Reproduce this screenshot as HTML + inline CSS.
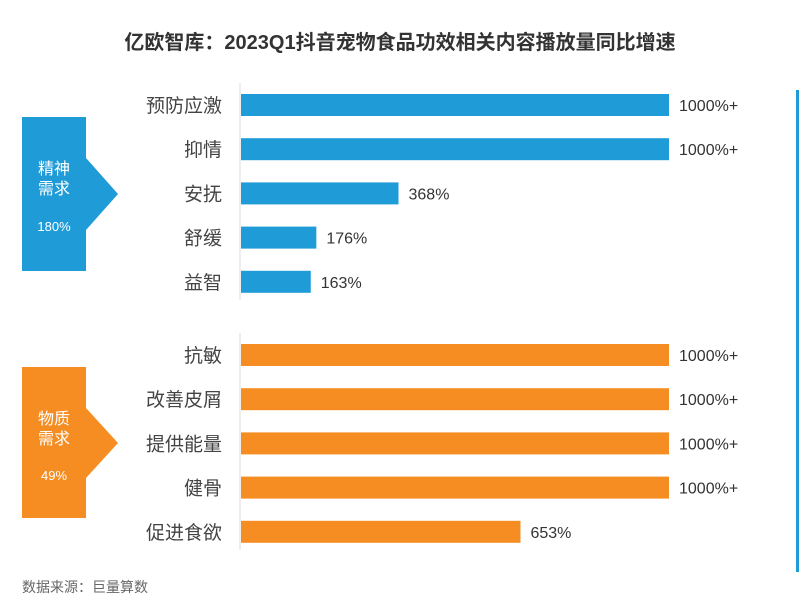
<!DOCTYPE html>
<html><head><meta charset="utf-8"><style>
body{margin:0;width:799px;height:608px;background:#fff;overflow:hidden;font-family:"Liberation Sans","Noto Sans CJK SC",sans-serif}
</style></head><body>
<svg width="799" height="608" id="c">
<text x="400" y="49" text-anchor="middle" font-size="20" font-weight="bold" fill="#333">亿欧智库：2023Q1抖音宠物食品功效相关内容播放量同比增速</text>
<rect x="796" y="90" width="3" height="482" fill="#1f9bd7"/>
<line x1="240" y1="83" x2="240" y2="300" stroke="#ddd"/>
<line x1="240" y1="333" x2="240" y2="550" stroke="#ddd"/>
<polygon points="22,117 86,117 86,158 118,194 86,230 86,271 22,271" fill="#1f9bd7"/>
<text x="54" y="174" text-anchor="middle" font-size="16" fill="#fff">精神</text>
<text x="54" y="194" text-anchor="middle" font-size="16" fill="#fff">需求</text>
<text x="54" y="231" text-anchor="middle" font-size="13" fill="#fff">180%</text>
<polygon points="22,367 86,367 86,408 118,443 86,478 86,518 22,518" fill="#f58d22"/>
<text x="54" y="424" text-anchor="middle" font-size="16" fill="#fff">物质</text>
<text x="54" y="444" text-anchor="middle" font-size="16" fill="#fff">需求</text>
<text x="54" y="480" text-anchor="middle" font-size="13" fill="#fff">49%</text>
<text x="22" y="592" font-size="14" fill="#666">数据来源：巨量算数</text>
</svg>
<script>
const blueCats=["预防应激","抑情","安抚","舒缓","益智"];
const blueVals=[1000,1000,368,176,163];
const blueLabels=["1000%+","1000%+","368%","176%","163%"];
const orangeCats=["抗敏","改善皮屑","提供能量","健骨","促进食欲"];
const orangeVals=[1000,1000,1000,1000,653];
const orangeLabels=["1000%+","1000%+","1000%+","1000%+","653%"];
const svg=document.getElementById('c');const NS="http://www.w3.org/2000/svg";
const x0=241,scale=428/1000;
function xs(v){return x0+v*scale;}
function draw(cats,vals,labels,y0,color,key){
 cats.forEach((c,i)=>{
  const cy=y0+i*44.2;
  const r=document.createElementNS(NS,'rect');
  r.setAttribute('x',x0);r.setAttribute('y',cy-11);r.setAttribute('width',xs(vals[i])-x0);r.setAttribute('height',22);r.setAttribute('fill',color);
  
  
  svg.appendChild(r);
  const t=document.createElementNS(NS,'text');
  t.setAttribute('x',222);t.setAttribute('y',cy+7);t.setAttribute('text-anchor','end');t.setAttribute('font-size','19');t.setAttribute('fill','#444');t.textContent=c;
  
  
  svg.appendChild(t);
  const v=document.createElementNS(NS,'text');
  v.setAttribute('x',xs(vals[i])+10);v.setAttribute('y',cy+6);v.setAttribute('font-size','16');v.setAttribute('fill','#333');v.textContent=labels[i];
  
  
  svg.appendChild(v);
 });
}
draw(blueCats,blueVals,blueLabels,105,'#1f9bd7','blue');
draw(orangeCats,orangeVals,orangeLabels,355,'#f58d22','orange');
</script>
</body></html>
